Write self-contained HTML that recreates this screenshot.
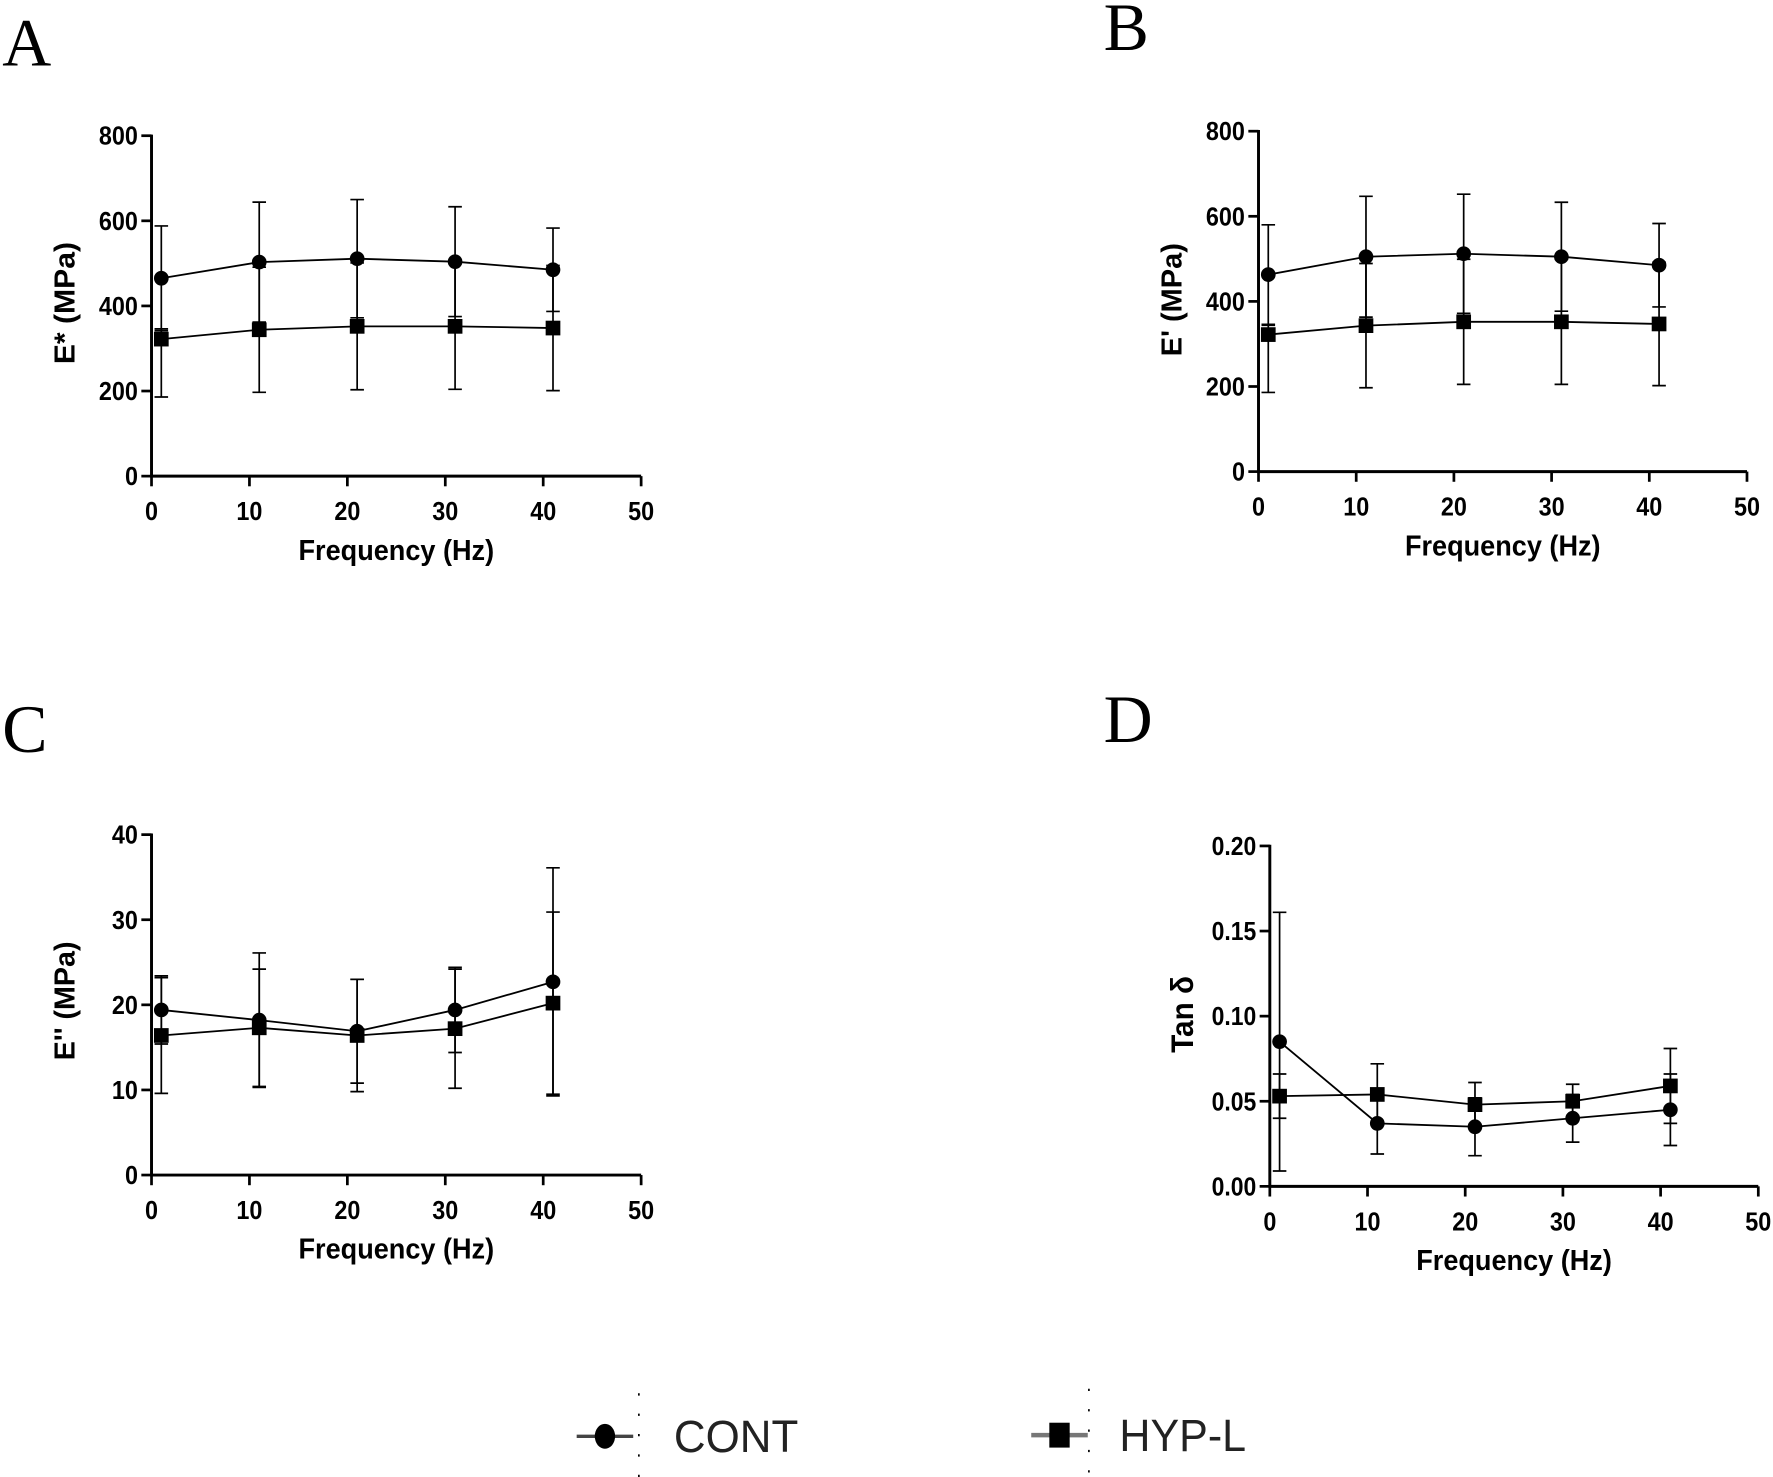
<!DOCTYPE html>
<html><head><meta charset="utf-8"><style>
html,body{margin:0;padding:0;background:#fff;}
svg{display:block;}
text{font-family:"Liberation Sans",Arial,sans-serif;}
text.serif{font-family:"Liberation Serif",serif;}
</style></head><body>
<svg id="fig" width="1773" height="1477" viewBox="0 0 1568 1306" preserveAspectRatio="none" xmlns="http://www.w3.org/2000/svg">
<rect width="1568" height="1306" fill="#fff"/>
<text class="serif" x="2" y="58" font-size="60">A</text>
<text class="serif" x="976" y="44" font-size="60">B</text>
<text class="serif" x="2" y="665" font-size="60">C</text>
<text class="serif" x="976" y="656" font-size="60">D</text>
<g id="legend">
 <g>
  <line x1="510" y1="1270" x2="560" y2="1270" stroke="#444" stroke-width="3"/>
  <ellipse cx="535" cy="1270" rx="9" ry="11" fill="#000"/>
  <line x1="565" y1="1232" x2="565" y2="1306" stroke="#000" stroke-width="1.5" stroke-dasharray="2,16"/>
  <text x="596" y="1284" font-size="40" fill="#222" textLength="110" lengthAdjust="spacingAndGlyphs">CONT</text>
 </g>
 <g>
  <line x1="912" y1="1269" x2="962" y2="1269" stroke="#777" stroke-width="4"/>
  <rect x="928" y="1258" width="18" height="22" fill="#000"/>
  <line x1="963" y1="1228" x2="963" y2="1302" stroke="#000" stroke-width="1.5" stroke-dasharray="2,16"/>
  <text x="990" y="1283" font-size="40" fill="#222" textLength="112" lengthAdjust="spacingAndGlyphs">HYP-L</text>
 </g>
</g>
</svg>
<script>
const freqs = [1, 11, 21, 31, 41];
const xTicks = [0, 10, 20, 30, 40, 50];
// Panel A
const aContMean = [465, 503, 511, 504, 485];
const aContUp = [588, 644, 650, 633, 583];
const aContLo = [342, 362, 372, 375, 387];
const aHypMean = [322, 344, 352, 352, 348];
const aHypUp = [346, 491, 501, 500, 495];
const aHypLo = [186, 197, 203, 204, 201];
const aTicks = [0, 200, 400, 600, 800];
// Panel B
const bContMean = [463, 505, 512, 505, 485];
const bContUp = [580, 647, 652, 633, 583];
const bContLo = [346, 363, 372, 377, 387];
const bHypMean = [322, 343, 352, 352, 347];
const bHypUp = [344, 489, 499, 499, 492];
const bHypLo = [186, 197, 205, 205, 202];
const bTicks = [0, 200, 400, 600, 800];
// Panel C
const cContMean = [19.4, 18.2, 16.9, 19.4, 22.7];
const cContUp = [23.4, 26.1, 23.0, 24.4, 36.1];
const cContLo = [15.4, 10.3, 10.8, 14.4, 9.3];
const cHypMean = [16.4, 17.3, 16.4, 17.2, 20.2];
const cHypUp = [23.2, 24.2, 23.0, 24.2, 30.9];
const cHypLo = [9.6, 10.4, 9.8, 10.2, 9.5];
const cTicks = [0, 10, 20, 30, 40];
// Panel D
const dContMean = [0.085, 0.037, 0.035, 0.040, 0.045];
const dContUp = [0.161, 0.055, 0.052, 0.054, 0.066];
const dContLo = [0.009, 0.019, 0.018, 0.026, 0.024];
const dHypMean = [0.053, 0.054, 0.048, 0.050, 0.059];
const dHypUp = [0.066, 0.072, 0.061, 0.060, 0.081];
const dHypLo = [0.040, 0.036, 0.035, 0.040, 0.037];
const dTicks = ["0.00", "0.05", "0.10", "0.15", "0.20"];

const NS = "http://www.w3.org/2000/svg";
const svg = document.getElementById("fig");
function mk(tag, attrs, parent) {
  const e = document.createElementNS(NS, tag);
  for (const k in attrs) e.setAttribute(k, attrs[k]);
  parent.appendChild(e);
  return e;
}
function panel(id, ox, oy, ytop, xend, yMax, yTicks, yTitle, cont, hyp, titleY, titleLen, titleSize) {
  const g = mk("g", {}, svg);
  
  
  const xs = v => ox + (v / 50) * (xend - ox);
  const ys = v => oy - (v / yMax) * (oy - ytop);
  const ax = mk("path", {d: `M${ox},${ytop-1} L${ox},${oy} L${xend},${oy}`, fill: "none", stroke: "#000", "stroke-width": 2.6}, g);
  
  
  xTicks.forEach(t => {
    const x = xs(t);
    mk("line", {x1: x, y1: oy, x2: x, y2: oy + 9, stroke: "#000", "stroke-width": 2.4}, g);
    const s = String(t);
    const tx = mk("text", {x: x, y: oy + 39, "font-size": 23, "font-weight": "bold", "text-anchor": "middle", textLength: 11.5 * s.length, lengthAdjust: "spacingAndGlyphs"}, g);
    tx.textContent = s;
    
    
  });
  yTicks.forEach(t => {
    const y = ys(parseFloat(t));
    mk("line", {x1: ox - 9, y1: y, x2: ox, y2: y, stroke: "#000", "stroke-width": 2.4}, g);
    const s = String(t);
    const w = s.replace('.', '').length * 11.5 + (s.includes('.') ? 5 : 0);
    const tx = mk("text", {x: ox - 12, y: y + 8, "font-size": 23, "font-weight": "bold", "text-anchor": "end", textLength: w, lengthAdjust: "spacingAndGlyphs"}, g);
    tx.textContent = s;
    
    
  });
  const xt = mk("text", {x: (ox + xend) / 2, y: oy + 74, "font-size": 25, "font-weight": "bold", "text-anchor": "middle", textLength: 173, lengthAdjust: "spacingAndGlyphs"}, g);
  xt.textContent = "Frequency (Hz)";
  
  
  const cy = (oy + ytop) / 2;
  const yt = mk("text", {x: 0, y: 0, "font-size": titleSize || 25, "font-weight": "bold", "text-anchor": "middle", textLength: titleLen || 105, lengthAdjust: "spacingAndGlyphs", transform: `translate(${ox - 68},${titleY || cy}) rotate(-90)`}, g);
  yt.textContent = yTitle;
  
  
  [[cont, 'cont'], [hyp, 'hyp-l']].forEach(([s, name]) => {
    const sg = mk("g", {}, g);
    
    
    freqs.forEach((f, i) => {
      const x = xs(f);
      const eb = mk("path", {d: `M${x},${ys(s[1][i])} L${x},${ys(s[2][i])} M${x-6},${ys(s[1][i])} L${x+6},${ys(s[1][i])} M${x-6},${ys(s[2][i])} L${x+6},${ys(s[2][i])}`, stroke: "#000", "stroke-width": 1.5, fill: "none"}, sg);
      
      
    });
    const pts = freqs.map((f, i) => `${xs(f)},${ys(s[0][i])}`).join(" ");
    const ln = mk("polyline", {points: pts, fill: "none", stroke: "#000", "stroke-width": 1.6}, sg);
    
    
    freqs.forEach((f, i) => {
      const x = xs(f), y = ys(s[0][i]);
      let m;
      if (name === 'cont') m = mk("circle", {cx: x, cy: y, r: 6.5, fill: "#000"}, sg);
      else m = mk("rect", {x: x - 6.5, y: y - 6.5, width: 13, height: 13, fill: "#000"}, sg);
      
      
    });
  });
}
panel('a', 134, 421, 120, 567, 800, aTicks, "E* (MPa)", [aContMean, aContUp, aContLo], [aHypMean, aHypUp, aHypLo], 268, 108);
panel('b', 1113, 417, 116, 1545, 800, bTicks, "E' (MPa)", [bContMean, bContUp, bContLo], [bHypMean, bHypUp, bHypLo], 265, 100);
panel('c', 134, 1039, 738, 567, 40, cTicks, "E'' (MPa)", [cContMean, cContUp, cContLo], [cHypMean, cHypUp, cHypLo], 885, 105);
panel('d', 1123, 1049, 748, 1555, 0.20, dTicks, "Tan δ", [dContMean, dContUp, dContLo], [dHypMean, dHypUp, dHypLo], 897, 68, 28);
</script>
</body></html>
